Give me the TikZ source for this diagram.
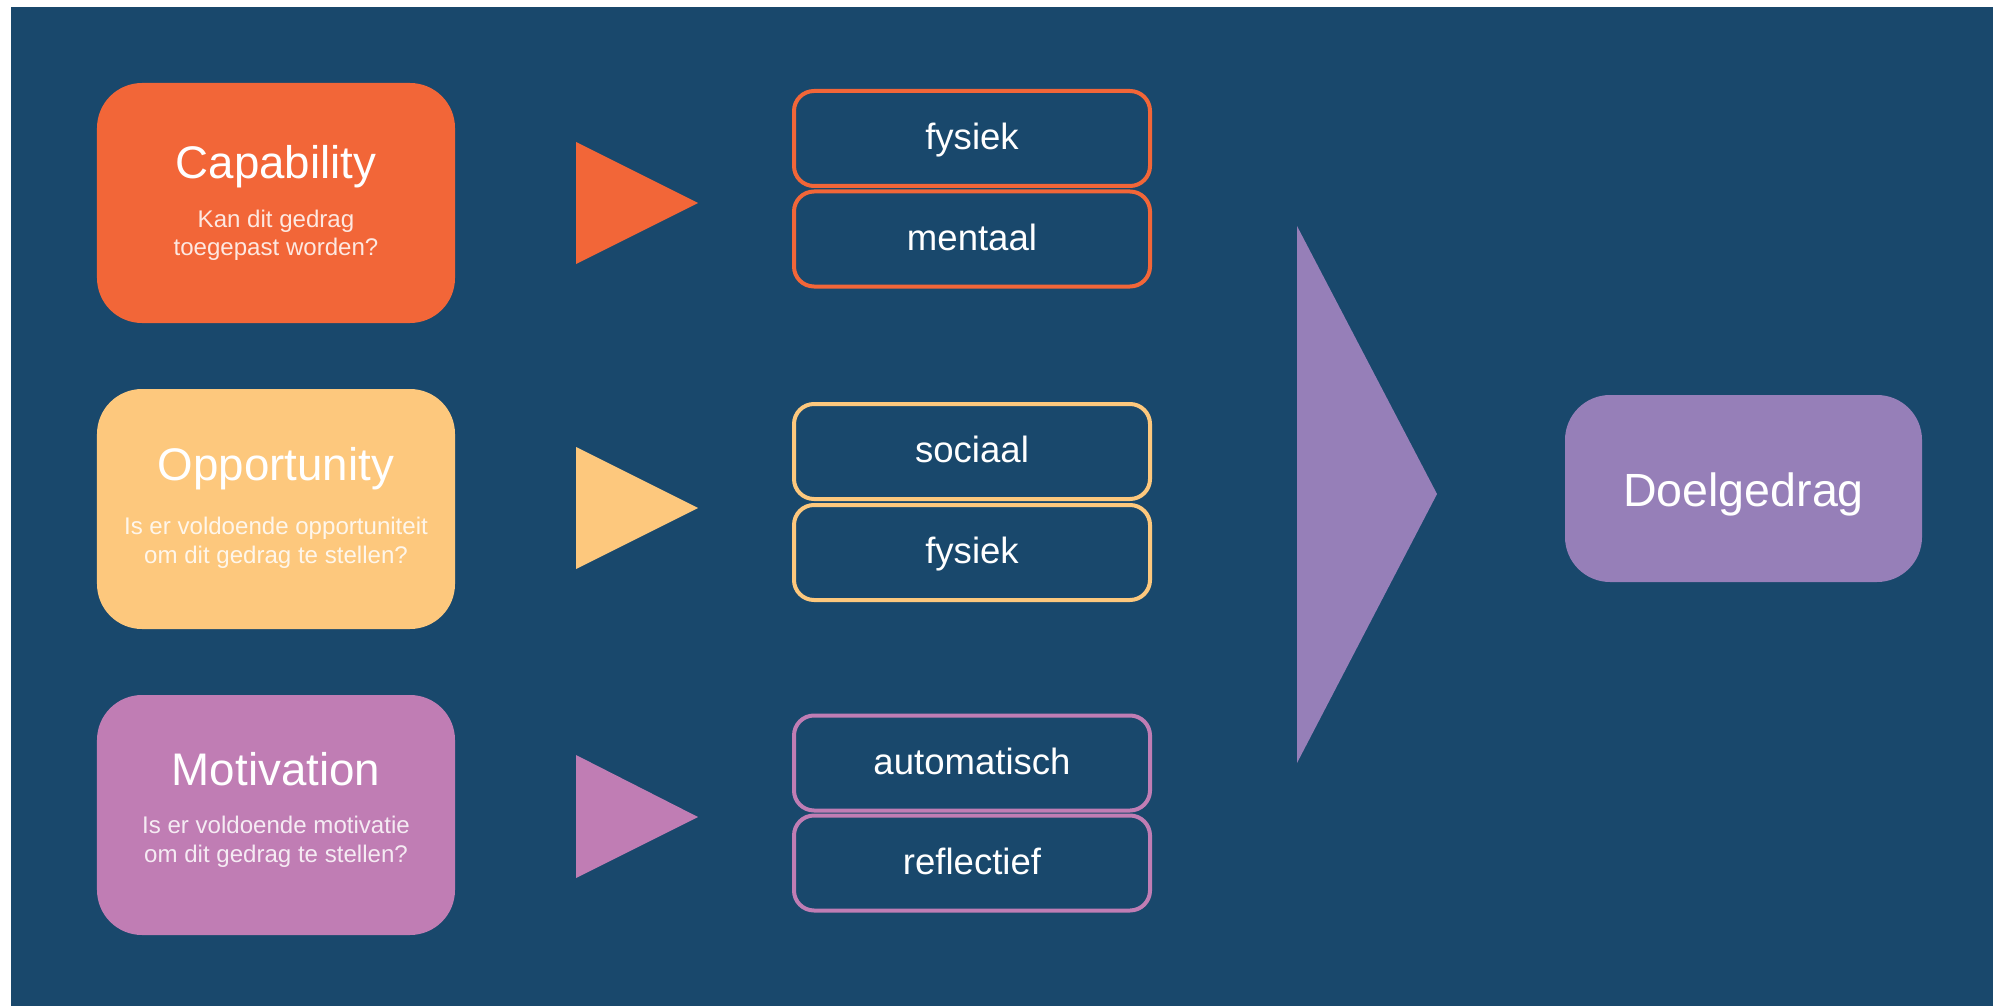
\documentclass[tikz,border=0pt]{standalone}
\usepackage{fontspec}
\setmainfont{Liberation Sans}
\usetikzlibrary{positioning}
\definecolor{bg}{HTML}{19486C}
\definecolor{capcol}{HTML}{F26638}
\definecolor{oppcol}{HTML}{FDC87D}
\definecolor{motcol}{HTML}{C07DB4}
\definecolor{doelcol}{HTML}{967FB8}

\begin{document}
\begin{tikzpicture}[x=0.2mm,y=-0.2mm,
  factor/.style={rounded corners=9mm,minimum width=71.6mm,minimum height=48mm,inner sep=0pt},
  title/.style={text=white,font=\fontsize{26}{30}\selectfont,anchor=base,inner sep=0pt},
  question/.style={text=white,text opacity=0.85,font=\fontsize{13.7}{16.5}\selectfont,align=center,anchor=base,inner sep=0pt},
  subbox/.style={draw,line width=0.8mm,rounded corners=4mm,minimum width=71.2mm,minimum height=19mm,
    text=white,font=\fontsize{20.8}{24}\selectfont,text height=5.4mm,text depth=1mm}]
% background with the white strip at top and left
\fill[white] (0,0) rectangle (1993,1006);
\fill[bg] (11,7) rectangle (1993,1006);

% Capability
\node[factor,fill=capcol] (cap) at (276,203) {};
\node[title] (captitle) at (276,179) {Capability};
\node[question] (capq) at (276,256) {Kan dit gedrag\\toegepast worden?};
\fill[capcol] (576,142) -- (698,203) -- (576,264) -- cycle;
\node[subbox,draw=capcol] (capa) at (972,138.5) {fysiek};
\node[subbox,draw=capcol] (capb) at (972,239) {mentaal};

% Opportunity
\node[factor,fill=oppcol] (opp) at (276,509) {};
\node[title] (opptitle) at (276,480) {Opportunity};
\node[question] (oppq) at (276,563) {Is er voldoende opportuniteit\\om dit gedrag te stellen?};
\fill[oppcol] (576,447) -- (698,508) -- (576,569) -- cycle;
\node[subbox,draw=oppcol] (oppa) at (972,451.5) {sociaal};
\node[subbox,draw=oppcol] (oppb) at (972,552.5) {fysiek};

% Motivation
\node[factor,fill=motcol] (mot) at (276,815) {};
\node[title] (mottitle) at (276,785) {Motivation};
\node[question] (motq) at (276,862) {Is er voldoende motivatie\\om dit gedrag te stellen?};
\fill[motcol] (576,755) -- (698,817) -- (576,878) -- cycle;
\node[subbox,draw=motcol] (mota) at (972,763) {automatisch};
\node[subbox,draw=motcol] (motb) at (972,863) {reflectief};

% big arrow and target behaviour
\fill[doelcol] (1297,226) -- (1437,494) -- (1297,763) -- cycle;
\node[factor,fill=doelcol,minimum width=71.4mm,minimum height=37.4mm,text=white,
  font=\fontsize{26.5}{30}\selectfont,text height=7mm,text depth=0mm] (doel) at (1743.5,488.5) {Doelgedrag};
\end{tikzpicture}
\end{document}
